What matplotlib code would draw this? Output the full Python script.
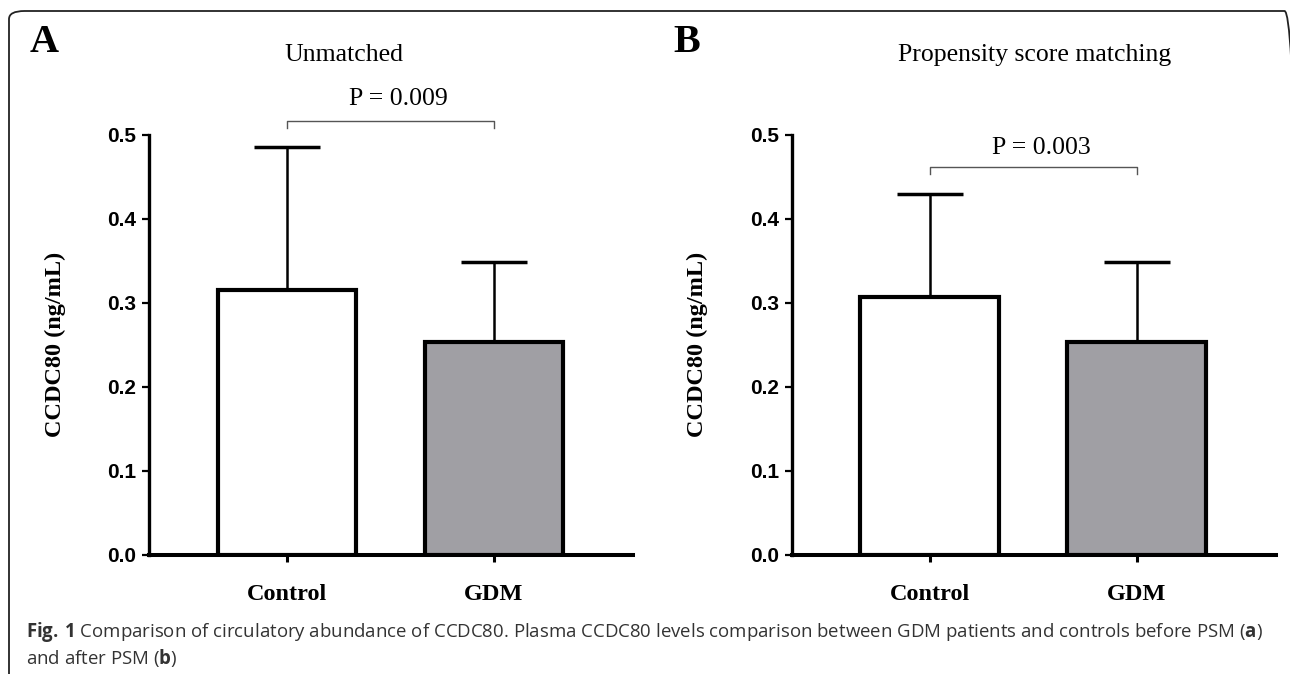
import matplotlib
matplotlib.use('Agg')
from matplotlib import pyplot as plt
from matplotlib.patches import FancyBboxPatch

plt.rcParams['mathtext.fontset'] = 'custom'
plt.rcParams['mathtext.rm'] = 'Open Sans'
plt.rcParams['mathtext.bf'] = 'Open Sans:bold'

groups = ['Control', 'GDM']
bar_colors = ['white', '#a09fa4']

# panel A: unmatched
means_a = [0.315, 0.253]
sd_a = [0.170, 0.095]
p_a = 'P = 0.009'

# panel B: propensity score matching
means_b = [0.307, 0.253]
sd_b = [0.122, 0.095]
p_b = 'P = 0.003'

yticks = [0.0, 0.1, 0.2, 0.3, 0.4, 0.5]

serif = 'Liberation Serif'
sans = 'Liberation Sans'

W, H = 1290, 674
fig = plt.figure(figsize=(12.9, 6.74), dpi=100)

# frame round the figure (top corners rounded, bottom runs off the page)
frame = FancyBboxPatch((9 / W, -0.2), (1300 - 9) / W, 1.2 - 11 / H,
                       boxstyle='round,pad=0,rounding_size=0.012',
                       transform=fig.transFigure, fill=False,
                       edgecolor='#222222', linewidth=1.3, clip_on=False)
fig.patches.append(frame)


def panel(left, means, sds, ptxt, bracket_y, ptxt_y):
    ax = fig.add_axes([left, 1 - 555 / H, 484 / W, (555 - 134.5) / H])
    x = [0, 1]
    ax.bar(x, means, width=0.67, color=bar_colors, edgecolor='black',
           linewidth=3.0, zorder=3)
    ax.errorbar(x, means, yerr=[[0, 0], sds], fmt='none', ecolor='black',
                elinewidth=1.8, capsize=24, capthick=2.5, zorder=2)
    ax.set_xlim(-0.668, 1.672)
    ax.set_ylim(0, 0.5)
    ax.set_yticks(yticks)
    ax.set_yticklabels(['%.1f' % t for t in yticks], fontfamily=sans,
                       fontweight='bold', fontsize=15)
    ax.set_xticks(x)
    ax.set_xticklabels(groups, fontfamily=serif, fontweight='bold', fontsize=17.5)
    ax.tick_params(axis='y', length=5, width=1.6, pad=4)
    ax.tick_params(axis='x', length=5, width=2.2, pad=16)
    for s in ['top', 'right']:
        ax.spines[s].set_visible(False)
    ax.spines['left'].set_linewidth(2.4)
    ax.spines['bottom'].set_linewidth(2.9)
    ax.set_ylabel('CCDC80 (ng/mL)', fontfamily=serif, fontweight='bold',
                  fontsize=17.5)
    ax.yaxis.set_label_coords(-0.172, 0.5)

    # significance bracket
    ax.plot([0, 0, 1, 1], [bracket_y - 0.008, bracket_y, bracket_y, bracket_y - 0.008],
            color='#555555', linewidth=1.0, clip_on=False)
    ax.text(0.54, ptxt_y, ptxt, ha='center', va='center', fontfamily=serif,
            fontsize=18.5, clip_on=False)
    return ax


ax_a = panel(149 / W, means_a, sd_a, p_a, 0.5159, 0.5417)
ax_b = panel(791.5 / W, means_b, sd_b, p_b, 0.4615, 0.484)

fig.text(44.6 / W, 1 - 43 / H, 'A', fontfamily=serif, fontweight='bold',
         fontsize=29, ha='center', va='center')
fig.text(687 / W, 1 - 43 / H, 'B', fontfamily=serif, fontweight='bold',
         fontsize=29, ha='center', va='center')
fig.text(344 / W, 1 - 55 / H, 'Unmatched', fontfamily=serif, fontsize=18.5,
         ha='center', va='center')
fig.text(1035 / W, 1 - 55 / H, 'Propensity score matching', fontfamily=serif,
         fontsize=18.5, ha='center', va='center')

# caption
cap1 = (r'$\mathbf{Fig.\,1}$ Comparison of circulatory abundance of CCDC80. '
        r'Plasma CCDC80 levels comparison between GDM patients and controls '
        r'before PSM ($\mathbf{a}$)')
cap2 = r'and after PSM ($\mathbf{b}$)'
fig.text(26 / W, 1 - 632 / H, cap1, fontfamily='Open Sans', fontsize=13.4,
         color='#333333', ha='left', va='center')
fig.text(26 / W, 1 - 658 / H, cap2, fontfamily='Open Sans', fontsize=13.4,
         color='#333333', ha='left', va='center')

plt.savefig('out.png', dpi=100)
